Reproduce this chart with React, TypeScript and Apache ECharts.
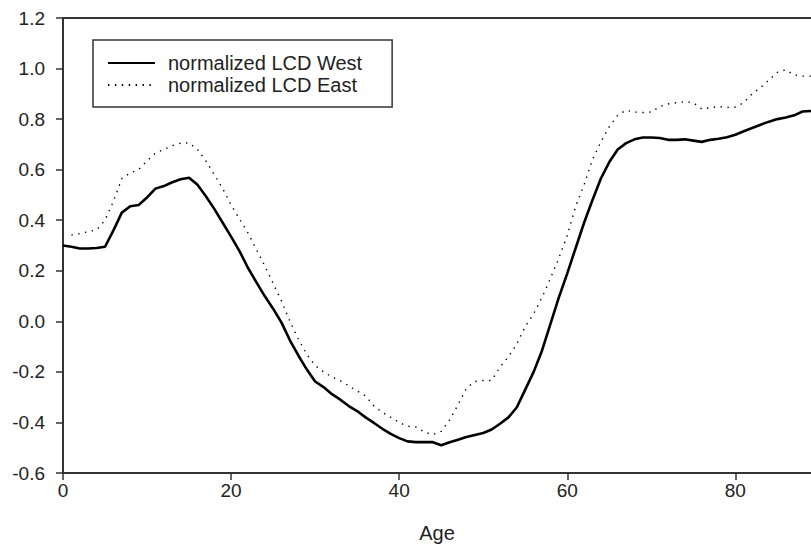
import React, { useEffect, useRef } from "react";
import * as echarts from "echarts";

const ages: number[] = Array.from({ length: 90 }, (_, i) => i);

const westValues: number[] = [
  0.3, 0.295, 0.288, 0.288, 0.29, 0.295, 0.36, 0.43, 0.455, 0.46,
  0.49, 0.525, 0.535, 0.55, 0.562, 0.568, 0.54, 0.495, 0.445, 0.39,
  0.335, 0.278, 0.212, 0.155, 0.1, 0.05, -0.005, -0.075, -0.135, -0.19,
  -0.238, -0.26, -0.288, -0.31, -0.335, -0.355, -0.38, -0.402, -0.425, -0.445,
  -0.462, -0.475, -0.478, -0.478, -0.478, -0.49, -0.478, -0.468, -0.458, -0.45,
  -0.442, -0.428, -0.405, -0.38, -0.34, -0.27, -0.2, -0.115, -0.01, 0.095,
  0.19, 0.29, 0.39, 0.48, 0.565, 0.63, 0.68, 0.705, 0.72, 0.727,
  0.727, 0.725, 0.718, 0.718, 0.72, 0.715, 0.71, 0.718, 0.722, 0.728,
  0.738, 0.752, 0.765, 0.778, 0.79, 0.8, 0.806, 0.815, 0.83, 0.832,
];

const eastValues: (number | null)[] = [
  null, 0.341, 0.347, 0.355, 0.362, 0.4, 0.475, 0.565, 0.587, 0.6,
  0.635, 0.665, 0.68, 0.695, 0.705, 0.706, 0.68, 0.635, 0.58, 0.525,
  0.46, 0.405, 0.35, 0.285, 0.22, 0.15, 0.08, 0.0, -0.07, -0.13,
  -0.175, -0.2, -0.22, -0.235, -0.255, -0.275, -0.295, -0.335, -0.36, -0.38,
  -0.4, -0.415, -0.418, -0.438, -0.448, -0.435, -0.39, -0.33, -0.265, -0.238,
  -0.234, -0.234, -0.181, -0.14, -0.09, -0.02, 0.03, 0.095, 0.17, 0.25,
  0.34, 0.455, 0.54, 0.64, 0.71, 0.77, 0.815, 0.835, 0.828, 0.826,
  0.828, 0.85, 0.86, 0.865, 0.869, 0.865, 0.84, 0.845, 0.85, 0.846,
  0.848, 0.865, 0.9, 0.925, 0.955, 0.985, 0.995, 0.975, 0.97, 0.97,
];

const seriesNames: string[] = ["normalized LCD West", "normalized LCD East"];
const xTitle = "Age";

const FONT = "'Liberation Sans', Arial, sans-serif";
const AXIS_COLOR = "#333";

export default function App() {
  const ref = useRef<HTMLDivElement>(null);

  useEffect(() => {
    if (!ref.current) return;
    const chart = echarts.init(ref.current, null, { renderer: "svg" });
    const west = ages.map((a, i) => [a, westValues[i]]);
    const east = ages.map((a, i) => [a, eastValues[i]]);
    chart.setOption({
      animation: false,
      backgroundColor: "#ffffff",
      textStyle: { fontFamily: FONT },
      grid: { left: 63, right: 0, top: 18, bottom: 77, containLabel: false },
      legend: {
        show: true,
        orient: "vertical",
        left: 93,
        top: 40,
        padding: [13, 30, 12, 14],
        itemGap: 2,
        itemWidth: 47,
        itemHeight: 14,
        borderColor: AXIS_COLOR,
        borderWidth: 1.5,
        borderRadius: 0,
        backgroundColor: "#ffffff",
        data: seriesNames,
        itemStyle: { opacity: 0, borderWidth: 0 },
        textStyle: {
          fontFamily: FONT,
          fontSize: 20,
          color: "#222",
          padding: [0, 0, 0, 8],
        },
      },
      xAxis: [
        {
          type: "value",
          min: 0,
          max: 89,
          interval: 20,
          position: "bottom",
          name: xTitle,
          nameLocation: "middle",
          nameGap: 50,
          nameTextStyle: { fontFamily: FONT, fontSize: 20, color: "#222" },
          axisLine: { show: true, onZero: false, lineStyle: { color: AXIS_COLOR, width: 2 } },
          axisTick: { show: true, length: 7, inside: false, lineStyle: { color: AXIS_COLOR, width: 1.5 } },
          axisLabel: {
            fontFamily: FONT,
            fontSize: 19,
            color: "#222",
            margin: 8,
            showMaxLabel: false,
          },
          splitLine: { show: false },
        },
        {
          type: "value",
          min: 0,
          max: 89,
          position: "top",
          axisLine: { show: true, onZero: false, lineStyle: { color: AXIS_COLOR, width: 2 } },
          axisTick: { show: false },
          axisLabel: { show: false },
          splitLine: { show: false },
        },
      ],
      yAxis: {
        type: "value",
        min: -0.6,
        max: 1.2,
        interval: 0.2,
        axisLine: { show: true, onZero: false, lineStyle: { color: AXIS_COLOR, width: 2 } },
        axisTick: { show: true, length: 7, inside: false, lineStyle: { color: AXIS_COLOR, width: 1.5 } },
        axisLabel: {
          fontFamily: FONT,
          fontSize: 19,
          color: "#222",
          margin: 18,
          formatter: (v: number) => v.toFixed(1),
        },
        splitLine: { show: false },
      },
      series: [
        {
          name: seriesNames[0],
          type: "line",
          data: west,
          symbol: "none",
          showSymbol: false,
          smooth: false,
          lineStyle: { color: "#000", width: 2.6 },
          itemStyle: { color: "#000" },
        },
        {
          name: seriesNames[1],
          type: "line",
          data: east,
          symbol: "none",
          showSymbol: false,
          smooth: false,
          connectNulls: false,
          lineStyle: { color: "#000", width: 1.4, type: [1.4, 5.5] },
          itemStyle: { color: "#000" },
        },
      ],
    });
    return () => chart.dispose();
  }, []);

  return (
    <div
      ref={ref}
      style={{ position: "absolute", left: 0, top: 0, width: 811, height: 550 }}
    />
  );
}
